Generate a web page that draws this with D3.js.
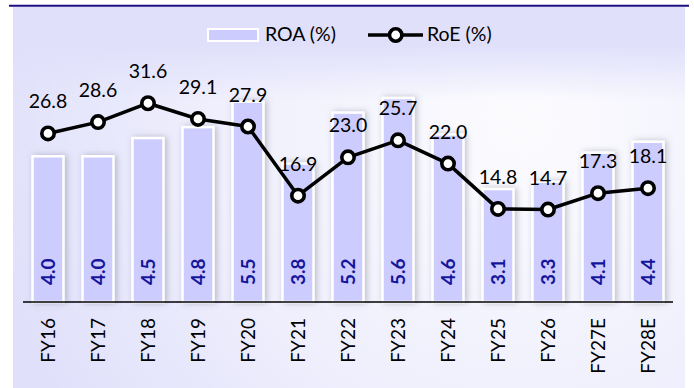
<!DOCTYPE html>
<html>
<head>
<meta charset="utf-8">
<script src="https://cdn.jsdelivr.net/npm/d3@7/dist/d3.min.js"></script>
<style>
  html, body { margin: 0; padding: 0; background: #ffffff; }
  svg { display: block; }
  text { font-family: "Lato", "Liberation Sans", sans-serif; }
</style>
</head>
<body>
<svg id="chart" width="694" height="388"></svg>
<script>
// Fiscal years shown on the category axis
const categories = ["FY16","FY17","FY18","FY19","FY20","FY21","FY22","FY23","FY24","FY25","FY26","FY27E","FY28E"];
// Return on assets (%), drawn as bars
const roa = [4.0, 4.0, 4.5, 4.8, 5.5, 3.8, 5.2, 5.6, 4.6, 3.1, 3.3, 4.1, 4.4];
// Return on equity (%), drawn as a line with markers
const roe = [26.8, 28.6, 31.6, 29.1, 27.9, 16.9, 23.0, 25.7, 22.0, 14.8, 14.7, 17.3, 18.1];
// Legend entries
const legendLabels = ["ROA (%)", "RoE (%)"];

const svg = d3.select("#chart");
const defs = svg.append("defs");

// Soft white glow over the plot panel
const glow = defs.append("radialGradient")
  .attr("id", "panelGlow")
  .attr("gradientUnits", "userSpaceOnUse")
  .attr("cx", 520).attr("cy", 120).attr("r", 540);
glow.append("stop").attr("offset", "0").attr("stop-color", "#ffffff").attr("stop-opacity", 0.9);
glow.append("stop").attr("offset", "0.55").attr("stop-color", "#ffffff").attr("stop-opacity", 0.5);
glow.append("stop").attr("offset", "1").attr("stop-color", "#ffffff").attr("stop-opacity", 0);

// Fade the glow back to the panel colour near the legend band
const topFade = defs.append("linearGradient")
  .attr("id", "topFade")
  .attr("gradientUnits", "userSpaceOnUse")
  .attr("x1", 0).attr("y1", 45).attr("x2", 0).attr("y2", 100);
topFade.append("stop").attr("offset", "0").attr("stop-color", "#e0e0fb").attr("stop-opacity", 1);
topFade.append("stop").attr("offset", "1").attr("stop-color", "#e0e0fb").attr("stop-opacity", 0);

// Bar shadow
const shadow = defs.append("filter").attr("id", "barShadow")
  .attr("x", "-40%").attr("y", "-10%").attr("width", "180%").attr("height", "120%");
shadow.append("feDropShadow")
  .attr("dx", 2).attr("dy", 0).attr("stdDeviation", 3.2)
  .attr("flood-color", "#707080").attr("flood-opacity", 0.42);

// Panel background
svg.append("rect").attr("x", 13).attr("y", 7).attr("width", 672).attr("height", 381)
  .attr("fill", "#e0e0fb");
svg.append("rect").attr("x", 13).attr("y", 45).attr("width", 672).attr("height", 343)
  .attr("fill", "url(#panelGlow)");
svg.append("rect").attr("x", 13).attr("y", 45).attr("width", 672).attr("height", 60)
  .attr("fill", "url(#topFade)");

// Rule across the top
svg.append("line").attr("x1", 9).attr("x2", 689).attr("y1", 5.8).attr("y2", 5.8)
  .attr("stroke", "#1a0f80").attr("stroke-width", 2);

// Scales
const x = d3.scaleBand().domain(categories).range([23, 673])
  .paddingInner(0.38).paddingOuter(0.19);
const yRoa = d3.scaleLinear().domain([0, 7]).range([302, 47]);
const yRoe = d3.scaleLinear().domain([0, 40]).range([302, 50.4]);

const data = categories.map((c, i) => ({ cat: c, roa: roa[i], roe: roe[i] }));

// ROA bars
svg.append("g").selectAll("rect").data(data).join("rect")
  .attr("x", d => x(d.cat))
  .attr("y", d => yRoa(d.roa))
  .attr("width", x.bandwidth())
  .attr("height", d => yRoa(0) - yRoa(d.roa))
  .attr("fill", "#ccccff")
  .attr("stroke", "#ffffff")
  .attr("stroke-width", 2.5)
  .attr("filter", "url(#barShadow)");

// ROA value labels, rotated inside the bars
svg.append("g").selectAll("text").data(data).join("text")
  .attr("transform", d => `translate(${x(d.cat) + x.bandwidth() / 2},${yRoa(0) - 17}) rotate(-90)`)
  .attr("text-anchor", "start")
  .attr("dy", "0.36em")
  .attr("font-size", 19)
  .attr("font-weight", "bold")
  .attr("fill", "#15159c")
  .text(d => d3.format(".1f")(d.roa));

// Category axis
const xAxis = svg.append("g").attr("transform", "translate(0,302)")
  .call(d3.axisBottom(x).tickSize(0).tickPadding(0));
xAxis.select(".domain").attr("stroke", "#000").attr("stroke-width", 1.6)
  .attr("d", "M23,0H673");
xAxis.selectAll(".tick text")
  .attr("font-family", "Lato, 'Liberation Sans', sans-serif")
  .attr("font-size", 19)
  .attr("fill", "#000")
  .attr("text-anchor", "end")
  .attr("transform", "translate(0,16) rotate(-90)")
  .attr("x", 0).attr("y", 0)
  .attr("dy", "0.36em");

// RoE line
const line = d3.line().x(d => x(d.cat) + x.bandwidth() / 2).y(d => yRoe(d.roe));
svg.append("path").datum(data)
  .attr("d", line)
  .attr("fill", "none")
  .attr("stroke", "#000")
  .attr("stroke-width", 3.5)
  .attr("stroke-linejoin", "round");

svg.append("g").selectAll("circle").data(data).join("circle")
  .attr("cx", d => x(d.cat) + x.bandwidth() / 2)
  .attr("cy", d => yRoe(d.roe))
  .attr("r", 6.2)
  .attr("fill", "#fff")
  .attr("stroke", "#000")
  .attr("stroke-width", 3.6);

// RoE value labels above the markers
svg.append("g").selectAll("text").data(data).join("text")
  .attr("x", d => x(d.cat) + x.bandwidth() / 2)
  .attr("y", d => yRoe(d.roe) - 25)
  .attr("text-anchor", "middle")
  .attr("font-size", 19.5)
  .attr("fill", "#000")
  .text(d => d3.format(".1f")(d.roe));

// Legend
const legend = svg.append("g");
legend.append("rect").attr("x", 208).attr("y", 29).attr("width", 50).attr("height", 12)
  .attr("fill", "#ccccff").attr("stroke", "#fff").attr("stroke-width", 2);
legend.append("text").attr("x", 265).attr("y", 41).attr("font-size", 19.5)
  .attr("fill", "#000").text(legendLabels[0]);
legend.append("line").attr("x1", 368).attr("x2", 423).attr("y1", 35).attr("y2", 35)
  .attr("stroke", "#000").attr("stroke-width", 3.5);
legend.append("circle").attr("cx", 395.7).attr("cy", 35).attr("r", 6.2)
  .attr("fill", "#fff").attr("stroke", "#000").attr("stroke-width", 3.6);
legend.append("text").attr("x", 427).attr("y", 41).attr("font-size", 19.5)
  .attr("fill", "#000").text(legendLabels[1]);
</script>
</body>
</html>
